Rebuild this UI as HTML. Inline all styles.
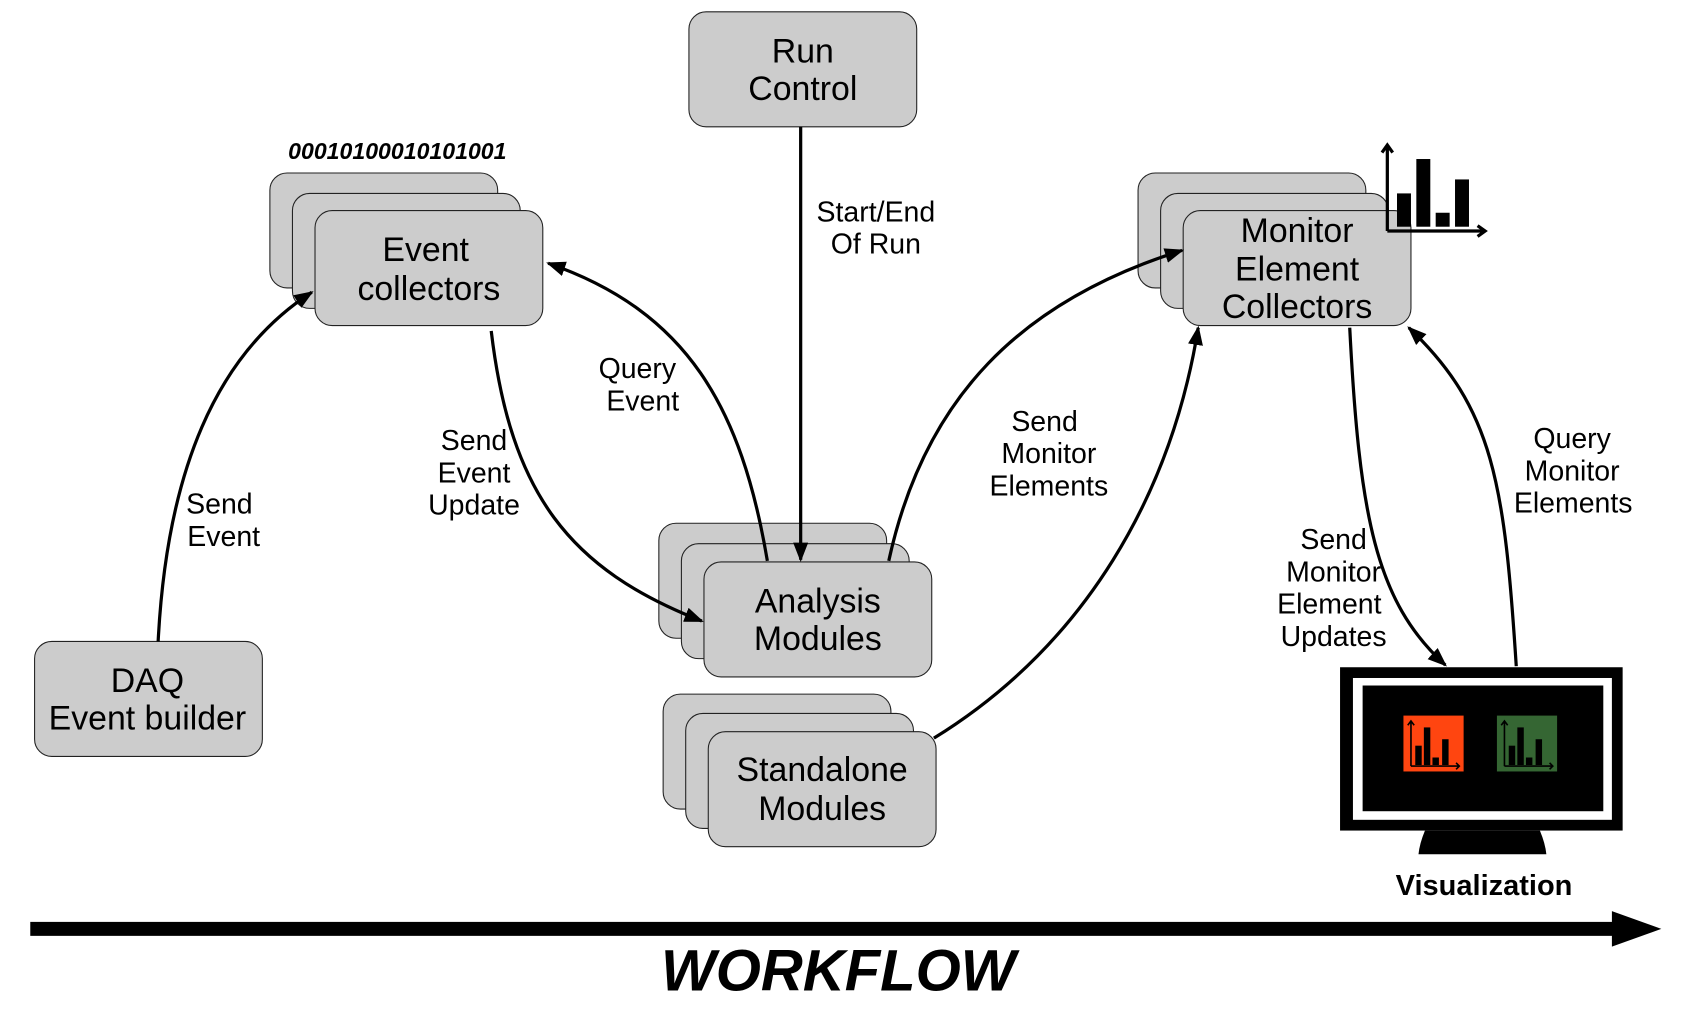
<!DOCTYPE html>
<html><head><meta charset="utf-8"><style>html,body{margin:0;padding:0;background:#fff;}svg{display:block}</style></head>
<body>
<svg width="1683" height="1010" viewBox="0 0 1566 940" xmlns="http://www.w3.org/2000/svg" font-family="Liberation Sans, sans-serif">
<defs>
<marker id="a" viewBox="0 0 18 14" refX="16" refY="7" markerWidth="18" markerHeight="14" orient="auto" markerUnits="userSpaceOnUse">
<path d="M0,0 L18,7 L0,14 Z" fill="#000"/>
</marker>
</defs>
<g fill="#cccccc" stroke="#222" stroke-width="1">
<rect x="641" y="11" width="212" height="107" rx="16"/>
<rect x="251" y="161" width="212" height="107" rx="16"/>
<rect x="272" y="180" width="212" height="107" rx="16"/>
<rect x="293" y="196" width="212" height="107" rx="16"/>
<rect x="1059" y="161" width="212" height="107" rx="16"/>
<rect x="1080" y="180" width="212" height="107" rx="16"/>
<rect x="1101" y="196" width="212" height="107" rx="16"/>
<rect x="613" y="487" width="212" height="107" rx="16"/>
<rect x="634" y="506" width="212" height="107" rx="16"/>
<rect x="655" y="523" width="212" height="107" rx="16"/>
<rect x="617" y="646" width="212" height="107" rx="16"/>
<rect x="638" y="664" width="212" height="107" rx="16"/>
<rect x="659" y="681" width="212" height="107" rx="16"/>
<rect x="32" y="597" width="212" height="107" rx="16"/>
</g>
<g font-size="31.5" text-anchor="middle" fill="#000">
<text x="747" y="58">Run</text><text x="747" y="93">Control</text>
<text x="396" y="243">Event</text><text x="399" y="279">collectors</text>
<text x="1207" y="225">Monitor</text><text x="1207" y="261">Element</text><text x="1207" y="296">Collectors</text>
<text x="761" y="570">Analysis</text><text x="761" y="605">Modules</text>
<text x="765" y="727">Standalone</text><text x="765" y="763">Modules</text>
<text x="137" y="644">DAQ</text><text x="137" y="679">Event builder</text>
</g>
<text x="268" y="148" font-size="21.5" font-weight="bold" font-style="italic">00010100010101001</text>
<g fill="none" stroke="#000" stroke-width="3">
<path d="M147,597 C155,440 200,330 290,272" marker-end="url(#a)"/>
<path d="M457,308 C475,460 530,530 653,578" marker-end="url(#a)"/>
<path d="M714,522 C690,380 640,290 510,245" marker-end="url(#a)"/>
<path d="M745,118 L745,521" marker-end="url(#a)"/>
<path d="M827,522 C860,370 950,280 1100,233" marker-end="url(#a)"/>
<path d="M869,687 C1010,600 1090,460 1115,305" marker-end="url(#a)"/>
<path d="M1256,305 C1265,480 1280,560 1345,619" marker-end="url(#a)"/>
<path d="M1411,620 C1400,450 1390,380 1311,305" marker-end="url(#a)"/>
</g>
<g font-size="26.5" text-anchor="middle" fill="#000">
<text x="815" y="206">Start/End</text><text x="815" y="236">Of Run</text>
<text x="204" y="478">Send</text><text x="208" y="508">Event</text>
<text x="441" y="419">Send</text><text x="441" y="449">Event</text><text x="441" y="479">Update</text>
<text x="593" y="352">Query</text><text x="598" y="382">Event</text>
<text x="972" y="401">Send</text><text x="976" y="431">Monitor</text><text x="976" y="461">Elements</text>
<text x="1241" y="511">Send</text><text x="1241" y="541">Monitor</text><text x="1237" y="571">Element</text><text x="1241" y="601">Updates</text>
<text x="1463" y="417">Query</text><text x="1463" y="447">Monitor</text><text x="1464" y="477">Elements</text>
</g>
<g stroke="#000" stroke-width="3" fill="none">
<path d="M1291,215 L1291,136 M1286,142 L1291,135 L1296,142"/>
<path d="M1291,215 L1381,215 M1375,210 L1382,215 L1375,220"/>
</g>
<g fill="#000">
<rect x="1300" y="180" width="13" height="31"/>
<rect x="1318" y="148" width="13" height="63"/>
<rect x="1336" y="198" width="13" height="13"/>
<rect x="1354" y="167" width="13" height="44"/>
</g>
<rect x="1247" y="621" width="263" height="152" fill="#000"/>
<rect x="1259" y="631" width="241" height="132" fill="#fff"/>
<rect x="1268" y="638" width="224" height="117" fill="#000"/>
<path d="M1326,773 L1433,773 Q1438,785 1439,795 L1320,795 Q1321,785 1326,773 Z" fill="#000"/>
<rect x="1306" y="666" width="56" height="52" fill="#ff4510"/>
<rect x="1393" y="666" width="56" height="52" fill="#356633"/>
<g fill="#000" stroke="#000">
<path d="M1313,713 L1313,672 M1313,713 L1358,713 M1310,675 L1313,671 L1316,675 M1355,710 L1358,713 L1355,716" stroke-width="1.5" fill="none"/>
<rect x="1317" y="694" width="6" height="18" stroke="none"/><rect x="1325" y="677" width="6" height="35" stroke="none"/><rect x="1333" y="705" width="6" height="7" stroke="none"/><rect x="1342" y="688" width="6" height="24" stroke="none"/>
<path d="M1400,713 L1400,672 M1400,713 L1445,713 M1397,675 L1400,671 L1403,675 M1442,710 L1445,713 L1442,716" stroke-width="1.5" fill="none"/>
<rect x="1404" y="694" width="6" height="18" stroke="none"/><rect x="1412" y="677" width="6" height="35" stroke="none"/><rect x="1420" y="705" width="6" height="7" stroke="none"/><rect x="1429" y="688" width="6" height="24" stroke="none"/>
</g>
<text x="1381" y="833" font-size="27" font-weight="bold" text-anchor="middle">Visualization</text>
<rect x="28" y="858" width="1475" height="13" fill="#000"/>
<path d="M1500,848 L1546,864.5 L1500,881 Z" fill="#000"/>
<text x="780" y="922" font-size="54" font-weight="bold" font-style="italic" text-anchor="middle">WORKFLOW</text>
</svg>
</body></html>
